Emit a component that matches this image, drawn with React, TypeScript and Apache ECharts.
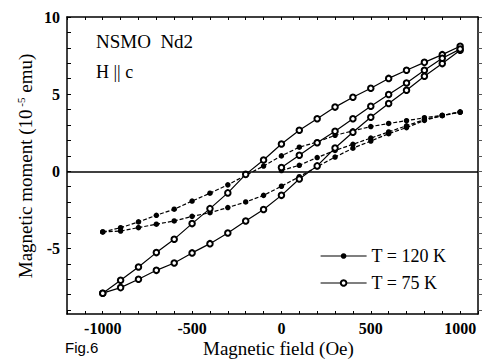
import React, { useEffect, useRef } from "react";
import * as echarts from "echarts";

const FIELD = [-1000, -900, -800, -700, -600, -500, -400, -300, -200, -100, 0, 100, 200, 300, 400, 500, 600, 700, 800, 900, 1000];
const FIELD_VIRGIN = [0, 100, 200, 300, 400, 500, 600, 700, 800, 900, 1000];

// T = 120 K
const M120_DOWN = [-3.93, -3.66, -3.28, -2.85, -2.46, -1.93, -1.42, -0.88, -0.26, 0.34, 1.0, 1.56, 1.9, 2.33, 2.62, 2.9, 3.1, 3.28, 3.47, 3.63, 3.84];
const M120_UP = [-3.93, -3.87, -3.65, -3.43, -3.22, -2.92, -2.68, -2.35, -1.99, -1.56, -0.97, -0.35, 0.3, 0.92, 1.5, 1.96, 2.44, 2.83, 3.3, 3.6, 3.84];
const M120_VIRGIN = [0.05, 0.39, 0.89, 1.35, 1.75, 2.15, 2.55, 2.95, 3.35, 3.62, 3.84];

// T = 75 K
const M75_DOWN = [-7.9, -7.06, -6.2, -5.27, -4.4, -3.39, -2.42, -1.4, -0.2, 0.73, 1.77, 2.66, 3.4, 4.16, 4.8, 5.38, 6.02, 6.55, 7.06, 7.56, 8.1];
const M75_UP = [-7.9, -7.54, -7.0, -6.42, -5.94, -5.29, -4.69, -4.0, -3.22, -2.48, -1.56, -0.5, 0.35, 1.51, 2.53, 3.5, 4.39, 5.25, 6.16, 6.98, 7.84];
const M75_VIRGIN = [0.25, 1.04, 1.85, 2.6, 3.4, 4.22, 4.98, 5.72, 6.55, 7.33, 7.92];

const X_LABELS = [-1000, -500, 0, 500, 1000];
const Y_LABELS = [-5, 0, 5, 10];
const Y_MINOR = [-9, -8, -7, -6, -5, -4, -3, -2, -1, 0, 1, 2, 3, 4, 5, 6, 7, 8, 9, 10];

const NAME_120 = "T = 120 K";
const NAME_75 = "T = 75 K";

const SERIF = "Liberation Serif";

function pairs(xs: number[], ys: number[]) {
  return xs.map((x, i) => [x, ys[i]]);
}

export default function App() {
  const ref = useRef<HTMLDivElement>(null);
  useEffect(() => {
    if (!ref.current) return;
    const chart = echarts.init(ref.current, undefined, { renderer: "svg" });
    const s120 = (data: number[][], withZero = false) => ({
      type: "line",
      name: NAME_120,
      data,
      symbol: "circle",
      symbolSize: 5.5,
      itemStyle: { color: "#000" },
      lineStyle: { color: "#000", width: 1.2, type: [4, 2] },
      ...(withZero
        ? {
            markLine: {
              silent: true,
              symbol: "none",
              label: { show: false },
              lineStyle: { color: "#000", width: 1.6, type: "solid" },
              data: [{ yAxis: 0 }],
            },
          }
        : {}),
    });
    const s75 = (data: number[][]) => ({
      type: "line",
      name: NAME_75,
      data,
      symbol: "emptyCircle",
      symbolSize: 5.5,
      itemStyle: { color: "#000", borderWidth: 1.2 },
      lineStyle: { color: "#000", width: 1.2, type: "solid" },
    });
    const tickLabel = {
      color: "#000",
      fontFamily: SERIF,
      fontWeight: "bold",
      fontSize: 16,
      formatter: (v: number) => String(v),
    };
    chart.setOption({
      animation: false,
      backgroundColor: "#fff",
      grid: { left: 67, top: 17, right: 15, bottom: 45 },
      xAxis: [
        {
          type: "value",
          min: -1200,
          max: 1100,
          interval: 100,
          axisLine: { show: true, onZero: false, lineStyle: { color: "#000", width: 1.5 } },
          axisTick: { inside: true, length: 3, lineStyle: { color: "#000" } },
          splitLine: { show: false },
          axisLabel: { ...tickLabel, margin: 6, customValues: X_LABELS },
        },
        {
          type: "value",
          position: "top",
          min: -1200,
          max: 1100,
          interval: 100,
          axisLine: { show: true, onZero: false, lineStyle: { color: "#000", width: 1.5 } },
          axisTick: { inside: true, length: 3, lineStyle: { color: "#000" } },
          axisLabel: { show: false },
          splitLine: { show: false },
        },
      ],
      yAxis: [
        {
          type: "value",
          min: -9.25,
          max: 10,
          axisLine: { show: true, onZero: false, lineStyle: { color: "#000", width: 1.5 } },
          axisTick: { inside: true, length: 4, lineStyle: { color: "#000" }, customValues: Y_MINOR },
          splitLine: { show: false },
          axisLabel: { ...tickLabel, margin: 7, customValues: Y_LABELS },
        },
        {
          type: "value",
          position: "right",
          min: -9.25,
          max: 10,
          axisLine: { show: true, onZero: false, lineStyle: { color: "#000", width: 1.5 } },
          axisTick: { show: true, inside: false, length: 4, lineStyle: { color: "#555" }, customValues: Y_MINOR },
          axisLabel: { show: false },
          splitLine: { show: false },
        },
      ],
      legend: {
        orient: "vertical",
        left: 315,
        top: 242,
        itemWidth: 46,
        itemHeight: 7,
        itemGap: 9,
        data: [NAME_120, NAME_75],
        textStyle: { fontFamily: SERIF, fontSize: 18, color: "#000" },
        lineStyle: { type: "solid", width: 1.2 },
      },
      graphic: [
        {
          type: "text",
          left: 96,
          top: 32,
          style: { text: "NSMO  Nd2", font: `19px "${SERIF}"`, fill: "#000" },
        },
        {
          type: "text",
          left: 96,
          top: 63,
          style: { text: "H || c", font: `18px "${SERIF}"`, fill: "#000" },
        },
        {
          type: "text",
          x: 25,
          y: 166,
          rotation: Math.PI / 2,
          style: {
            text: "{a|Magnetic moment (10}{s| -5}{a| emu)}",
            align: "center",
            verticalAlign: "middle",
            fill: "#000",
            rich: {
              a: { fontFamily: SERIF, fontSize: 19, fill: "#000", lineHeight: 22 },
              s: { fontFamily: SERIF, fontSize: 11, fill: "#000", padding: [0, 0, 9, 0] },
            },
          },
        },
        {
          type: "text",
          left: 203,
          top: 339,
          style: { text: "Magnetic field (Oe)", font: `19px "${SERIF}"`, fill: "#000" },
        },
        {
          type: "text",
          left: 65,
          top: 340,
          style: { text: "Fig.6", font: `15px "Liberation Sans"`, fill: "#000" },
        },
      ],
      series: [
        s120(pairs(FIELD, M120_DOWN), true),
        s120(pairs(FIELD, M120_UP)),
        s120(pairs(FIELD_VIRGIN, M120_VIRGIN)),
        s75(pairs(FIELD, M75_DOWN)),
        s75(pairs(FIELD, M75_UP)),
        s75(pairs(FIELD_VIRGIN, M75_VIRGIN)),
      ],
    });
    return () => chart.dispose();
  }, []);
  return (
    <div
      ref={ref}
      style={{ position: "fixed", left: 0, top: 0, width: 493, height: 359, background: "#fff" }}
    />
  );
}
